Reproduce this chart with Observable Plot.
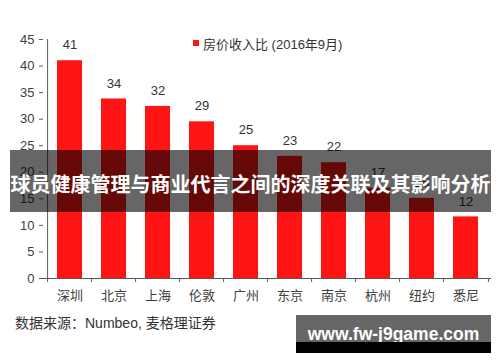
<!DOCTYPE html>
<html>
<head>
<meta charset="utf-8">
<script src="https://cdn.jsdelivr.net/npm/d3@7"></script>
<script src="https://cdn.jsdelivr.net/npm/@observablehq/plot@0.6"></script>
<style>
  body { margin: 0; background: #fff; }
  #wrap { position: relative; width: 500px; height: 362px; overflow: hidden;
          font-family: "Liberation Sans", "Noto Sans CJK SC", sans-serif; }
  #chart { position: absolute; left: 0; top: 0; }
  #legend { position: absolute; left: 193px; top: 34px; height: 18px; display: flex; align-items: center;
            font-size: 13px; color: #333; white-space: nowrap; }
  #legend .sw { width: 6px; height: 6px; background: #ff1414; margin-right: 4px; }
  #caption { position: absolute; left: 15px; top: 314px; font-size: 14px; color: #333; white-space: nowrap; line-height: 18px; }
  #banner { position: absolute; left: 10px; top: 150px; width: 481px; height: 62px; background: rgba(0,0,0,0.6);
            display: flex; align-items: center; justify-content: center; }
  #banner span { color: #fff; font-family: "Noto Sans CJK SC", sans-serif; font-weight: bold; font-size: 20px;
                 white-space: nowrap; position: relative; top: 2px; }
  #wm { position: absolute; left: 296px; top: 315px; width: 195px; height: 27px; background: #666; text-align: center; }
  #wm span { color: #fff; font-family: "Liberation Sans", sans-serif; font-weight: bold; font-size: 17.5px;
             line-height: 20px; position: relative; top: 9px; white-space: nowrap; }
  #wmbar { position: absolute; left: 296px; top: 342px; width: 195px; height: 11px; background: #000; }
</style>
</head>
<body>
<div id="wrap">
  <div id="chart"></div>
  <div id="legend"><div class="sw"></div><span id="legendText"></span></div>
  <div id="caption"></div>
  <div id="banner"><span id="bannerText"></span></div>
  <div id="wm"><span id="wmText"></span></div>
  <div id="wmbar"></div>
</div>
<script>
const cities = ["深圳", "北京", "上海", "伦敦", "广州", "东京", "南京", "杭州", "纽约", "悉尼"];
const ratios = [41, 33.8, 32.4, 29.5, 25, 23, 21.8, 17, 15.1, 11.6];
const valueLabels = ["41", "34", "32", "29", "25", "23", "22", "17", "15", "12"];
const yTicks = [0, 5, 10, 15, 20, 25, 30, 35, 40, 45];
const legendLabel = "房价收入比 (2016年9月)";
const sourceNote = "数据来源：Numbeo, 麦格理证券";
const bannerTitle = "球员健康管理与商业代言之间的深度关联及其影响分析";
const watermark = "www.fw-j9game.com";

const data = cities.map((city, i) => ({city, ratio: ratios[i], label: valueLabels[i]}));

const W = 500, H = 310, mL = 43, mR = 9, mT = 39, mB = 32;
const step = (W - mL - mR) / cities.length;
const axisColor = "#595959";
const textColor = "#404040";

const chart = Plot.plot({
  width: W, height: H,
  marginLeft: mL, marginRight: mR, marginTop: mT, marginBottom: mB,
  style: {fontFamily: '"Liberation Sans", "Noto Sans CJK SC", sans-serif', fontSize: "13px", color: textColor, background: "transparent"},
  x: {domain: cities, paddingInner: 0.44, paddingOuter: 0.22, label: null},
  y: {domain: [0, 45], label: null},
  marks: [
    Plot.barY(data, {x: "city", y: "ratio", fill: "#ff1414"}),
    Plot.text(data, {x: "city", y: "ratio", text: "label", dy: -15.5, fill: "#333", fontSize: 13}),
    Plot.ruleY([0], {stroke: axisColor}),
    Plot.ruleX([cities[0]], {y1: 0, y2: 45, dx: -step / 2, stroke: axisColor}),
    Plot.axisY({ticks: yTicks, tickSize: 4, tickPadding: 5, stroke: axisColor, fill: textColor, label: null}),
    Plot.axisX({tickSize: 4, dx: -step / 2, tickFormat: () => "", stroke: axisColor, label: null}),
    Plot.axisX([cities[cities.length - 1]], {tickSize: 4, dx: step / 2, tickFormat: () => "", stroke: axisColor, label: null}),
    Plot.axisX({tickSize: 0, tickPadding: 12, fill: textColor, fontSize: 13, label: null})
  ]
});
document.getElementById("chart").appendChild(chart);
document.getElementById("legendText").textContent = legendLabel;
document.getElementById("caption").textContent = sourceNote;
document.getElementById("bannerText").textContent = bannerTitle;
document.getElementById("wmText").textContent = watermark;
</script>
</body>
</html>
